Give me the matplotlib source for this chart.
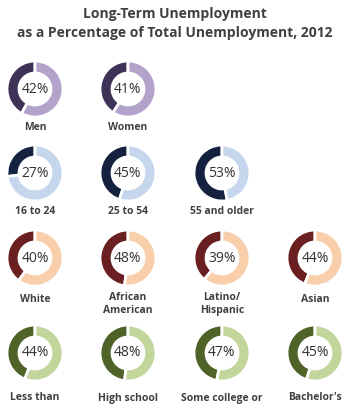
import matplotlib
matplotlib.use("Agg")
import matplotlib.pyplot as plt

W, H = 350, 417

gender_labels = ["Men", "Women"]
gender_values = [42, 41]
age_labels = ["16 to 24", "25 to 54", "55 and older"]
age_values = [27, 45, 53]
race_labels = ["White", "African\nAmerican", "Latino/\nHispanic", "Asian"]
race_values = [40, 48, 39, 44]
edu_labels = ["Less than", "High school", "Some college or", "Bachelor's"]
edu_values = [44, 48, 47, 45]

rows = [
    (gender_labels, gender_values, "#3f3257", "#b3a3cb", 89, 127),
    (age_labels, age_values, "#14223f", "#c6d6ec", 173, 211),
    (race_labels, race_values, "#6a1f20", "#f8cfaa", 258, 299),
    (edu_labels, edu_values, "#4f6228", "#c2d59b", 353, 398),
]
col_x = [35, 128, 222, 315]

fig = plt.figure(figsize=(W / 100, H / 100), dpi=100)
ax = fig.add_axes([0, 0, 1, 1])

fam = ["Open Sans", "DejaVu Sans"]
fig.text(0.5, 1 - 14 / H, "Long-Term Unemployment", ha="center", va="center",
         fontsize=10, fontweight="bold", color="#404040", family=fam)
fig.text(0.5, 1 - 33 / H, "as a Percentage of Total Unemployment, 2012", ha="center",
         va="center", fontsize=10, fontweight="bold", color="#404040", family=fam)

R = 28
for labels, values, dark, light, cy, ly in rows:
    for i, (lab, v) in enumerate(zip(labels, values)):
        cx = col_x[i]
        ax.pie([v, 100 - v], colors=[dark, light], startangle=90, counterclock=True,
               center=(cx, H - cy), radius=R, frame=True,
               wedgeprops=dict(width=12, edgecolor="white", linewidth=2))
        ax.text(cx, H - cy, f"{v}%", ha="center", va="center", fontsize=10,
                color="#333333", family=fam)
        yl = ly + 5 if "\n" in lab else ly
        ax.text(cx, H - yl, lab, ha="center", va="center", fontsize=7.5,
                fontweight="bold", color="#404040", family=fam, linespacing=1.15)

ax.set_xlim(0, W)
ax.set_ylim(0, H)
ax.axis("off")
fig.savefig("out.png", dpi=100, facecolor="white")
